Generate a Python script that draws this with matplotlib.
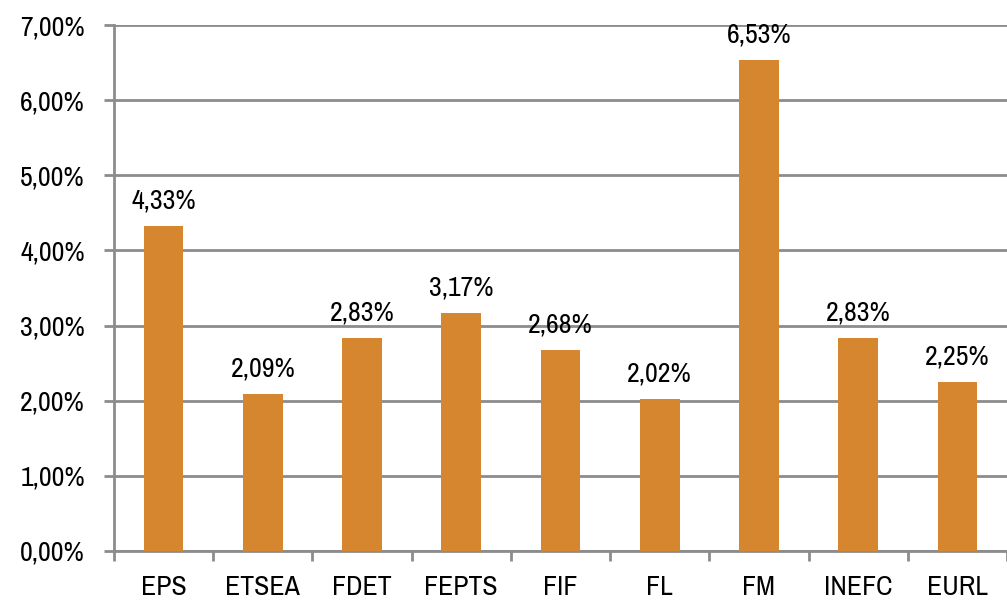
import matplotlib.pyplot as plt
import numpy as np
from matplotlib import font_manager
from matplotlib.ticker import FuncFormatter

# pick a condensed face if there is one installed
names = sorted({f.name for f in font_manager.fontManager.ttflist})
narrow = [n for n in names if 'Condensed' in n or 'Narrow' in n]
plt.rcParams['font.family'] = narrow[:1] + ['Liberation Sans', 'DejaVu Sans']

categories = ['EPS', 'ETSEA', 'FDET', 'FEPTS', 'FIF', 'FL', 'FM', 'INEFC', 'EURL']
values = [4.33, 2.09, 2.83, 3.17, 2.68, 2.02, 6.53, 2.83, 2.25]

bar_color = '#D5862F'
grid_color = '#8C8C8C'

fig = plt.figure(figsize=(10.07, 6.02), dpi=100)
ax = fig.add_axes([114 / 1007, 51 / 602, 893 / 1007, 526 / 602])

x = np.arange(len(categories))
ax.bar(x, values, width=0.4, color=bar_color, zorder=3)

fs = 20 if narrow else 18
for xi, v in zip(x, values):
    ax.annotate(f'{v:.2f}%'.replace('.', ','), (xi, v), xytext=(0, 9),
                textcoords='offset points', ha='center', va='bottom', fontsize=fs)

ax.set_xlim(-0.5, len(categories) - 0.5)
ax.set_ylim(0, 7)
ax.set_yticks(np.arange(0, 8, 1))
ax.yaxis.set_major_formatter(FuncFormatter(lambda v, p: f'{v:.2f}%'.replace('.', ',')))
ax.grid(axis='y', color=grid_color, linewidth=2, zorder=0)

ax.set_xticks(x)
ax.set_xticklabels(categories)
ax.set_xticks(np.arange(-0.5, len(categories)), minor=True)
ax.tick_params(axis='x', which='major', length=0, pad=17, labelsize=fs)
ax.tick_params(axis='x', which='minor', length=7, width=2, color=grid_color)
ax.tick_params(axis='y', length=7, width=2, color=grid_color, pad=14, labelsize=fs)

for s in ['top', 'right']:
    ax.spines[s].set_visible(False)
for s in ['left', 'bottom']:
    ax.spines[s].set_color(grid_color)
    ax.spines[s].set_linewidth(2)

fig.savefig('out.png', dpi=100)
